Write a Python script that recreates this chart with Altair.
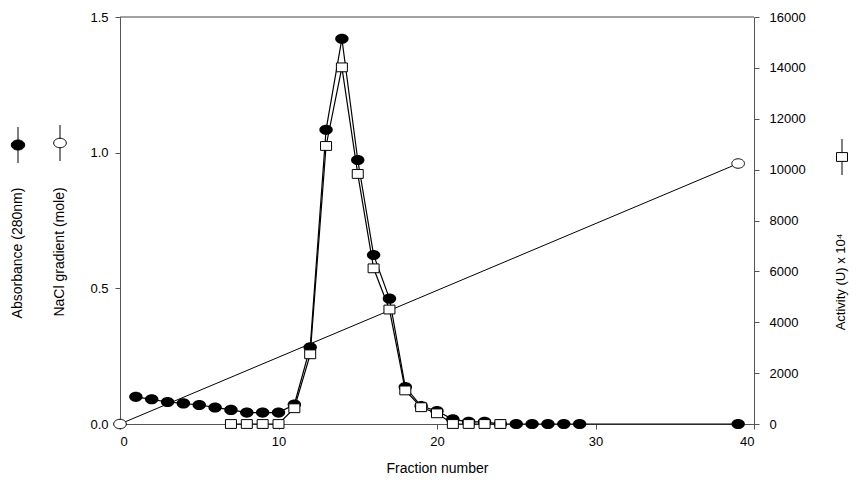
import altair as alt
import pandas as pd

# ---- data ----
abs_fraction = list(range(1, 30)) + [39]
abs_values = [0.100, 0.091, 0.081, 0.076, 0.070, 0.061, 0.052, 0.042, 0.042, 0.042,
              0.072, 0.283, 1.084, 1.420, 0.973, 0.623, 0.462, 0.136, 0.066, 0.048,
              0.017, 0.008, 0.008, 0.0, 0.0, 0.0, 0.0, 0.0, 0.0,
              0.0]
act_fraction = list(range(7, 25))
act_values = [0, 0, 0, 0, 620, 2740, 10930, 14020, 9830, 6120, 4500, 1320, 660, 420,
              0, 0, 0, 0]
nacl_fraction = [0, 39]
nacl_values = [0.0, 0.96]

x_ticks = [0, 10, 20, 30, 40]
left_ticks = [0.0, 0.5, 1.0, 1.5]
right_ticks = list(range(0, 16001, 2000))

abs_df = pd.DataFrame({"fraction": abs_fraction, "value": abs_values})
act_df = pd.DataFrame({"fraction": act_fraction, "value": act_values})
nacl_df = pd.DataFrame({"fraction": nacl_fraction, "value": nacl_values})

W, H = 634, 407
FONT = "Liberation Sans"
ELLIPSE = "M-1,0A1,0.75,0,1,0,1,0A1,0.75,0,1,0,-1,0Z"
RECT = "M-1,-0.8L1,-0.8L1,0.8L-1,0.8Z"

x_axis = alt.Axis(values=x_ticks, title="Fraction number", titleFont=FONT,
                  titleFontSize=14, titleFontWeight="normal", titleY=44,
                  titleBaseline="middle", labelPadding=6, format="d")
x_enc = alt.X("fraction:Q", scale=alt.Scale(domain=[0, 40], nice=False, zero=False),
              axis=x_axis)
y_left = alt.Y("value:Q", scale=alt.Scale(domain=[0, 1.5], nice=False),
               axis=alt.Axis(values=left_ticks, format=".1f", title=None, labelPadding=7))
y_right = alt.Y("value:Q", scale=alt.Scale(domain=[0, 16000], nice=False),
                axis=alt.Axis(values=right_ticks, format="d", title=None,
                              orient="right", labelPadding=10))

nacl_line = alt.Chart(nacl_df).mark_line(color="black", strokeWidth=1).encode(x=x_enc, y=y_left)
abs_line = alt.Chart(abs_df).mark_line(color="black", strokeWidth=1.2).encode(x=x_enc, y=y_left)
abs_pts = alt.Chart(abs_df).mark_point(shape=ELLIPSE, size=180, filled=True, color="black",
                                       opacity=1).encode(x=x_enc, y=y_left)
nacl_pts = alt.Chart(nacl_df).mark_point(shape=ELLIPSE, size=160, filled=True, fill="white",
                                         stroke="black", strokeWidth=1, opacity=1
                                         ).encode(x=x_enc, y=y_left)
left = alt.layer(nacl_line, abs_line, abs_pts, nacl_pts)

act_line = alt.Chart(act_df).mark_line(color="black", strokeWidth=1.2).encode(x=x_enc, y=y_right)
act_pts = alt.Chart(act_df).mark_point(shape=RECT, size=121, filled=True, fill="white",
                                       stroke="black", strokeWidth=1, opacity=1
                                       ).encode(x=x_enc, y=y_right)
right = alt.layer(act_line, act_pts)

data_layer = alt.layer(left, right).resolve_scale(y="independent")

one = pd.DataFrame({"a": [0]})

top_rule = alt.Chart(one).mark_rule(color="#444", strokeWidth=1).encode(
    x=alt.value(0), x2=alt.value(W), y=alt.value(0))


def side_title(text, x, y_center, size=14):
    return alt.Chart(one).mark_text(text=text, angle=270, align="center", baseline="middle",
                                    font=FONT, fontSize=size, color="black").encode(
        x=alt.value(x), y=alt.value(y_center))


def side_symbol(x, y, shape, size, fill):
    r = alt.Chart(one).mark_rule(color="black", strokeWidth=1).encode(
        x=alt.value(x), y=alt.value(y - 18), y2=alt.value(y + 18))
    p = alt.Chart(one).mark_point(shape=shape, size=size, filled=True, fill=fill,
                                  stroke="black", strokeWidth=1, opacity=1).encode(
        x=alt.value(x), y=alt.value(y))
    return r + p


annotations = [
    top_rule,
    side_title("Absorbance (280nm)", -102, 236),
    side_symbol(-102, 128, ELLIPSE, 180, "black"),
    side_title("NaCl gradient (mole)", -60, 235),
    side_symbol(-60, 126, ELLIPSE, 160, "white"),
    side_title("Activity (U) x 10\u2074", 721, 265, 13),
    side_symbol(722, 140, RECT, 121, "white"),
]

chart = alt.layer(data_layer, *annotations).properties(
    width=W, height=H,
    autosize=alt.AutoSizeParams(type="none"),
    padding={"left": 112, "top": 9, "right": 95, "bottom": 51},
).configure_view(stroke=None).configure_axis(
    grid=False, domainColor="#555", tickColor="#555", domainWidth=1, tickWidth=1,
    tickSize=5, labelFont=FONT, labelFontSize=13, labelColor="black",
)

chart.save("out.html", embed_options={"renderer": "svg", "actions": False})
